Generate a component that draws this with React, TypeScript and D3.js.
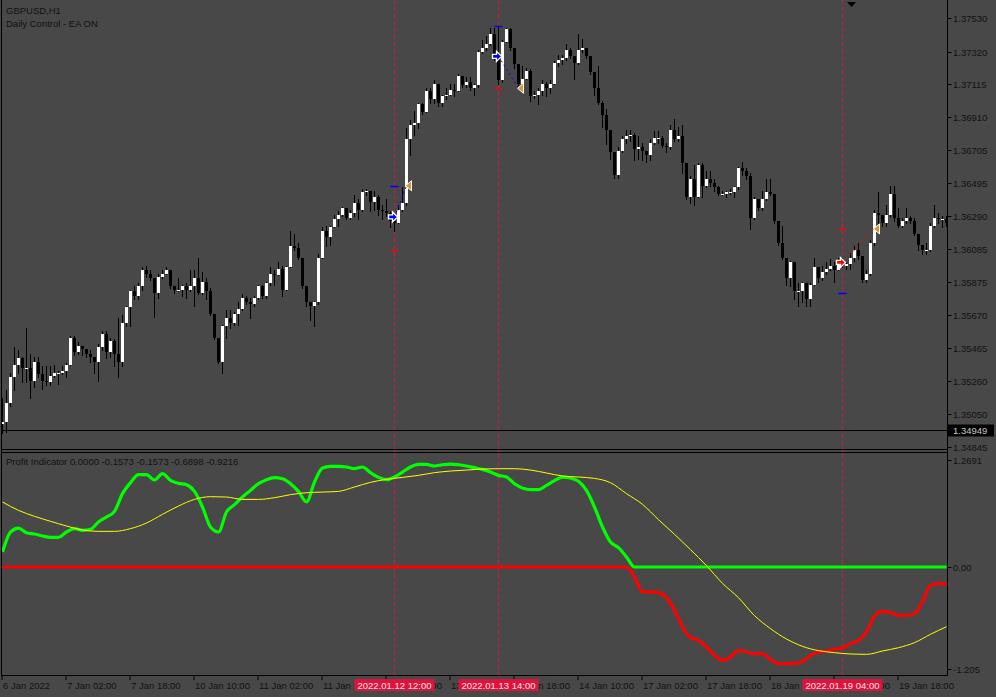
import { useEffect, useRef } from 'react'
import * as d3 from 'd3'

// GBPUSD H1 candles, 6 Jan 10:00 .. 19 Jan; open of each bar = previous close
const firstOpen = 1.3499
const closes = [
  1.3500, 1.3512, 1.3528, 1.3536, 1.3540, 1.3534, 1.3534, 1.3526, 1.3538, 1.3530,
  1.3526, 1.3525, 1.3529, 1.3531, 1.3531, 1.3532, 1.3536, 1.3553, 1.3544, 1.3548,
  1.3546, 1.3543, 1.3541, 1.3538, 1.3547, 1.3555, 1.3544, 1.3551, 1.3543, 1.3538,
  1.3562, 1.3572, 1.3582, 1.3579, 1.3585, 1.3595, 1.3593, 1.3590, 1.3581, 1.3591,
  1.3593, 1.3595, 1.3585, 1.3583, 1.3583, 1.3585, 1.3583, 1.3585, 1.3590, 1.3581,
  1.3588, 1.3582, 1.3568, 1.3553, 1.3538, 1.3560, 1.3565, 1.3562, 1.3568, 1.3571,
  1.3578, 1.3575, 1.3574, 1.3578, 1.3585, 1.3579, 1.3587, 1.3593, 1.3592, 1.3596,
  1.3583, 1.3597, 1.3610, 1.3609, 1.3603, 1.3585, 1.3575, 1.3573, 1.3575, 1.3603,
  1.3620, 1.3616, 1.3622, 1.3627, 1.3630, 1.3634, 1.3628, 1.3631, 1.3637, 1.3633,
  1.3644, 1.3645, 1.3638, 1.3641, 1.3633, 1.3632, 1.3631, 1.3626, 1.3625, 1.3633,
  1.3637, 1.3677, 1.3686, 1.3687, 1.3699, 1.3694, 1.3707, 1.3702, 1.3712, 1.3700,
  1.3704, 1.3705, 1.3708, 1.3707, 1.3717, 1.3711, 1.3713, 1.3709, 1.3711, 1.3732,
  1.3734, 1.3737, 1.3743, 1.3728, 1.3714, 1.3738, 1.3746, 1.3734, 1.3724, 1.3712,
  1.3715, 1.3720, 1.3704, 1.3705, 1.3707, 1.3712, 1.3709, 1.3712, 1.3725, 1.3727,
  1.3728, 1.3733, 1.3729, 1.3725, 1.3733, 1.3734, 1.3729, 1.3719, 1.3709, 1.3700,
  1.3692, 1.3683, 1.3669, 1.3655, 1.3670, 1.3677, 1.3679, 1.3680, 1.3671, 1.3672,
  1.3670, 1.3667, 1.3675, 1.3678, 1.3678, 1.3673, 1.3672, 1.3683, 1.3677, 1.3679,
  1.3662, 1.3641, 1.3652, 1.3641, 1.3661, 1.3648, 1.3652, 1.3650, 1.3647, 1.3643,
  1.3643, 1.3644, 1.3644, 1.3647, 1.3659, 1.3657, 1.3654, 1.3628, 1.3640, 1.3634,
  1.3640, 1.3644, 1.3643, 1.3626, 1.3612, 1.3603, 1.3590, 1.3600, 1.3582, 1.3582,
  1.3587, 1.3577, 1.3586, 1.3597, 1.3590, 1.3594, 1.3596, 1.3598, 1.3595, 1.3601,
  1.3598, 1.3599, 1.3603, 1.3608, 1.3604, 1.3589, 1.3593, 1.3612, 1.3631, 1.3630,
  1.3625, 1.3630, 1.3643, 1.3628, 1.3623, 1.3626, 1.3628, 1.3626, 1.3618, 1.3611,
  1.3608, 1.3608, 1.3623, 1.3628, 1.3627, 1.3627, 1.3625
]
const highs = [
  1.3515, 1.3520, 1.3531, 1.3547, 1.3545, 1.3541, 1.3559, 1.3543, 1.3541, 1.3541,
  1.3535, 1.3535, 1.3535, 1.3536, 1.3532, 1.3535, 1.3537, 1.3554, 1.3554, 1.3550,
  1.3548, 1.3546, 1.3545, 1.3541, 1.3549, 1.3557, 1.3557, 1.3553, 1.3552, 1.3565,
  1.3567, 1.3573, 1.3583, 1.3585, 1.3587, 1.3597, 1.3598, 1.3595, 1.3590, 1.3593,
  1.3595, 1.3597, 1.3595, 1.3585, 1.3590, 1.3586, 1.3587, 1.3595, 1.3595, 1.3603,
  1.3594, 1.3590, 1.3584, 1.3568, 1.3553, 1.3561, 1.3570, 1.3570, 1.3569, 1.3575,
  1.3580, 1.3579, 1.3578, 1.3579, 1.3586, 1.3586, 1.3588, 1.3597, 1.3595, 1.3600,
  1.3598, 1.3598, 1.3620, 1.3618, 1.3612, 1.3603, 1.3585, 1.3575, 1.3576, 1.3605,
  1.3622, 1.3623, 1.3623, 1.3630, 1.3632, 1.3635, 1.3633, 1.3633, 1.3642, 1.3640,
  1.3646, 1.3646, 1.3645, 1.3645, 1.3642, 1.3636, 1.3640, 1.3632, 1.3627, 1.3636,
  1.3647, 1.3684, 1.3689, 1.3695, 1.3700, 1.3700, 1.3709, 1.3709, 1.3714, 1.3711,
  1.3705, 1.3709, 1.3712, 1.3712, 1.3718, 1.3717, 1.3716, 1.3716, 1.3712, 1.3733,
  1.3739, 1.3742, 1.3747, 1.3747, 1.3748, 1.3739, 1.3747, 1.3747, 1.3734, 1.3724,
  1.3723, 1.3722, 1.3721, 1.3707, 1.3709, 1.3714, 1.3713, 1.3714, 1.3726, 1.3730,
  1.3730, 1.3737, 1.3734, 1.3729, 1.3743, 1.3740, 1.3734, 1.3729, 1.3719, 1.3723,
  1.3701, 1.3696, 1.3683, 1.3669, 1.3672, 1.3679, 1.3683, 1.3683, 1.3681, 1.3679,
  1.3675, 1.3670, 1.3677, 1.3682, 1.3682, 1.3679, 1.3675, 1.3686, 1.3690, 1.3685,
  1.3686, 1.3662, 1.3654, 1.3661, 1.3662, 1.3662, 1.3657, 1.3657, 1.3652, 1.3648,
  1.3645, 1.3645, 1.3646, 1.3648, 1.3660, 1.3663, 1.3659, 1.3656, 1.3641, 1.3640,
  1.3645, 1.3652, 1.3652, 1.3643, 1.3623, 1.3623, 1.3603, 1.3601, 1.3596, 1.3587,
  1.3588, 1.3587, 1.3587, 1.3603, 1.3597, 1.3598, 1.3600, 1.3602, 1.3600, 1.3603,
  1.3603, 1.3600, 1.3606, 1.3610, 1.3612, 1.3604, 1.3595, 1.3614, 1.3633, 1.3644,
  1.3630, 1.3636, 1.3648, 1.3648, 1.3634, 1.3628, 1.3634, 1.3629, 1.3628, 1.3618,
  1.3611, 1.3612, 1.3625, 1.3636, 1.3631, 1.3629, 1.3629
]
const lows = [
  1.3493, 1.3494, 1.3510, 1.3520, 1.3531, 1.3525, 1.3525, 1.3515, 1.3522, 1.3528,
  1.3521, 1.3523, 1.3523, 1.3528, 1.3524, 1.3530, 1.3528, 1.3536, 1.3542, 1.3543,
  1.3542, 1.3541, 1.3538, 1.3531, 1.3526, 1.3545, 1.3540, 1.3541, 1.3535, 1.3528,
  1.3535, 1.3560, 1.3560, 1.3577, 1.3577, 1.3583, 1.3591, 1.3589, 1.3566, 1.3578,
  1.3590, 1.3593, 1.3584, 1.3581, 1.3582, 1.3579, 1.3578, 1.3582, 1.3573, 1.3580,
  1.3580, 1.3577, 1.3567, 1.3552, 1.3537, 1.3531, 1.3553, 1.3559, 1.3561, 1.3561,
  1.3570, 1.3574, 1.3565, 1.3573, 1.3577, 1.3578, 1.3578, 1.3586, 1.3586, 1.3592,
  1.3579, 1.3584, 1.3597, 1.3608, 1.3602, 1.3584, 1.3573, 1.3564, 1.3560, 1.3574,
  1.3603, 1.3610, 1.3611, 1.3622, 1.3623, 1.3629, 1.3627, 1.3627, 1.3629, 1.3627,
  1.3632, 1.3642, 1.3632, 1.3633, 1.3630, 1.3627, 1.3629, 1.3622, 1.3620, 1.3627,
  1.3632, 1.3636, 1.3667, 1.3680, 1.3684, 1.3693, 1.3698, 1.3700, 1.3700, 1.3698,
  1.3698, 1.3702, 1.3705, 1.3704, 1.3707, 1.3710, 1.3710, 1.3708, 1.3705, 1.3710,
  1.3731, 1.3733, 1.3736, 1.3727, 1.3712, 1.3713, 1.3738, 1.3733, 1.3722, 1.3711,
  1.3713, 1.3715, 1.3701, 1.3703, 1.3699, 1.3705, 1.3704, 1.3706, 1.3712, 1.3723,
  1.3724, 1.3727, 1.3728, 1.3715, 1.3724, 1.3732, 1.3728, 1.3718, 1.3705, 1.3699,
  1.3685, 1.3674, 1.3665, 1.3653, 1.3653, 1.3669, 1.3675, 1.3676, 1.3664, 1.3665,
  1.3664, 1.3663, 1.3664, 1.3674, 1.3675, 1.3672, 1.3669, 1.3671, 1.3676, 1.3676,
  1.3656, 1.3640, 1.3637, 1.3636, 1.3652, 1.3641, 1.3647, 1.3648, 1.3645, 1.3642,
  1.3642, 1.3641, 1.3643, 1.3641, 1.3646, 1.3655, 1.3652, 1.3621, 1.3627, 1.3633,
  1.3633, 1.3639, 1.3642, 1.3625, 1.3611, 1.3602, 1.3586, 1.3585, 1.3577, 1.3573,
  1.3575, 1.3573, 1.3573, 1.3586, 1.3588, 1.3589, 1.3593, 1.3595, 1.3588, 1.3595,
  1.3597, 1.3596, 1.3596, 1.3601, 1.3602, 1.3588, 1.3588, 1.3592, 1.3611, 1.3625,
  1.3623, 1.3623, 1.3629, 1.3626, 1.3622, 1.3622, 1.3625, 1.3625, 1.3617, 1.3608,
  1.3605, 1.3605, 1.3607, 1.3622, 1.3625, 1.3622, 1.3623
]

const priceTicks = [1.37530, 1.37320, 1.37115, 1.36910, 1.36705, 1.36495, 1.36290,
  1.36085, 1.35875, 1.35670, 1.35465, 1.35260, 1.35050, 1.34845]
const lastPrice = 1.34949

const timeLabels = ['6 Jan 2022', '7 Jan 02:00', '7 Jan 18:00', '10 Jan 10:00', '11 Jan 02:00',
  '11 Jan 18:00', '12 Jan 10:00', '13 Jan 02:00', '13 Jan 18:00', '14 Jan 10:00',
  '17 Jan 02:00', '17 Jan 18:00', '18 Jan 10:00', '19 Jan 02:00', '19 Jan 18:00']
const barsPerTimeLabel = 16

// profit indicator, sampled every 2nd bar
const profitStep = 2
const profitValues = [
  0.178, 0.415, 0.462, 0.407, 0.391, 0.368, 0.352, 0.352, 0.415, 0.455,
  0.435, 0.447, 0.534, 0.593, 0.660, 0.870, 1.000, 1.095, 1.095, 1.032,
  1.107, 1.028, 0.992, 0.976, 0.897, 0.711, 0.474, 0.415, 0.652, 0.739,
  0.830, 0.909, 0.988, 1.036, 1.059, 1.047, 0.988, 0.897, 0.771, 1.008,
  1.174, 1.194, 1.194, 1.186, 1.166, 1.186, 1.119, 1.063, 1.036, 1.067,
  1.126, 1.186, 1.217, 1.217, 1.198, 1.213, 1.221, 1.213, 1.198, 1.178,
  1.158, 1.126, 1.087, 1.067, 0.988, 0.937, 0.917, 0.917, 0.968, 1.024,
  1.067, 1.055, 1.016, 0.909, 0.711, 0.474, 0.296, 0.229, 0.119, -0.119,
  -0.296, -0.296, -0.304, -0.364, -0.514, -0.711, -0.838, -0.870, -0.949, -1.047,
  -1.107, -1.067, -0.988, -1.008, -1.028, -1.028, -1.095, -1.146, -1.146, -1.146,
  -1.119, -1.047, -1.008, -0.996, -0.976, -0.960, -0.909, -0.870, -0.771, -0.581,
  -0.526, -0.542, -0.573, -0.573, -0.553, -0.415, -0.217, -0.198, -0.202
]
// yellow signal line, sampled every 4th bar
const signalStep = 4
const signalValues = [
  0.771, 0.672, 0.601, 0.542, 0.486, 0.439, 0.423, 0.423, 0.455, 0.522,
  0.625, 0.723, 0.802, 0.834, 0.830, 0.802, 0.802, 0.822, 0.858, 0.881,
  0.889, 0.897, 0.949, 1.004, 1.040, 1.063, 1.087, 1.119, 1.138, 1.150,
  1.162, 1.166, 1.166, 1.150, 1.115, 1.079, 1.067, 1.051, 1.000, 0.870,
  0.743, 0.561, 0.387, 0.206, 0.016, -0.194, -0.364, -0.577, -0.731, -0.854,
  -0.941, -0.992, -1.016, -1.032, -1.036, -0.996, -0.957, -0.897, -0.798, -0.708
]
const indicatorTicks = [1.2691, 0, -1.205]
const indicatorTickText = ['1.2691', '0.00', '-1.205']
const indicatorTitle = 'Profit Indicator 0.0000 -0.1573 -0.1573 -0.6898 -0.9216'

// trades: entry bar, exit bar, entry price, take profit, stop loss
const trades = [
  { side: 'buy', entry: 98, exit: 101, price: 1.36285, tp: 1.3648, sl: 1.3608, exitPrice: 1.3648, stamp: '2022.01.12 12:00' },
  { side: 'buy', entry: 124, exit: 129, price: 1.3729, tp: 1.3748, sl: 1.3709, exitPrice: 1.3709, stamp: '2022.01.13 14:00' },
  { side: 'sell', entry: 210, exit: 218, price: 1.3600, tp: 1.3581, sl: 1.3621, exitPrice: 1.3621, stamp: '2022.01.19 04:00' }
]

const FONT = '"Liberation Sans", Arial, sans-serif'
const BG = '#484848'
const INK = '#121212'

export default function App() {
  const svgRef = useRef<SVGSVGElement>(null)

  useEffect(() => {
    if (!svgRef.current) return
    const svg = d3.select(svgRef.current)
    svg.selectAll('*').remove()

    const right = 947.5
    const n = closes.length
    const x = d3.scaleLinear().domain([0, n - 1]).range([2.5, 2.5 + 4 * (n - 1)])
    const y = d3.scaleLinear().domain([1.34845, 1.37530]).range([447, 18])
    const yi = d3.scaleLinear().domain([-1.205, 1.2691]).range([668.6, 460])

    svg.append('rect').attr('width', 996).attr('height', 697).attr('fill', BG)

    const defs = svg.append('defs')
    defs.append('clipPath').attr('id', 'clipMain')
      .append('rect').attr('x', 2).attr('y', 0).attr('width', right - 2).attr('height', 449)
    defs.append('clipPath').attr('id', 'clipInd')
      .append('rect').attr('x', 2).attr('y', 453).attr('width', right - 2).attr('height', 222)

    // vertical trade lines through both panels
    trades.forEach(t => {
      svg.append('line')
        .attr('x1', x(t.entry)).attr('x2', x(t.entry))
        .attr('y1', 0).attr('y2', 675)
        .attr('stroke', '#dc143c').attr('stroke-width', 1)
        .attr('stroke-dasharray', '4,3')
    })

    // candles
    const main = svg.append('g').attr('clip-path', 'url(#clipMain)')
    const opens = closes.map((c, i) => (i === 0 ? firstOpen : closes[i - 1]))
    closes.forEach((c, i) => {
      const o = opens[i]
      const hi = Math.max(highs[i], o, c)
      const lo = Math.min(lows[i], o, c)
      main.append('line')
        .attr('x1', x(i)).attr('x2', x(i))
        .attr('y1', Math.round(y(hi))).attr('y2', Math.round(y(lo)) + 1)
        .attr('stroke', '#000').attr('stroke-width', 1)
      const top = Math.round(y(Math.max(o, c)))
      const bot = Math.round(y(Math.min(o, c)))
      main.append('rect')
        .attr('x', x(i) - 1.5).attr('y', top)
        .attr('width', 3).attr('height', Math.max(1, bot - top))
        .attr('fill', c >= o ? '#ffffff' : '#000000')
        .attr('shape-rendering', 'crispEdges')
    })

    // horizontal price line
    main.append('line')
      .attr('x1', 0).attr('x2', right)
      .attr('y1', Math.round(y(lastPrice)) + 0.5).attr('y2', Math.round(y(lastPrice)) + 0.5)
      .attr('stroke', '#000').attr('stroke-width', 1)

    // trade marks
    trades.forEach(t => {
      const buy = t.side === 'buy'
      const col = buy ? '#0000ff' : '#ff0000'
      const ex = x(t.entry)
      const ey = y(t.price)
      const cx = x(t.exit)
      const cy = y(t.exitPrice)
      main.append('line')
        .attr('x1', ex).attr('y1', ey).attr('x2', cx).attr('y2', cy)
        .attr('stroke', col).attr('stroke-width', 1).attr('stroke-dasharray', '2,3')
      main.append('line')
        .attr('x1', ex - 4).attr('x2', ex + 4)
        .attr('y1', Math.round(y(t.tp)) + 0.5).attr('y2', Math.round(y(t.tp)) + 0.5)
        .attr('stroke', '#0000ff').attr('stroke-width', 1.5)
      main.append('line')
        .attr('x1', ex - 4).attr('x2', ex + 4)
        .attr('y1', Math.round(y(t.sl)) + 0.5).attr('y2', Math.round(y(t.sl)) + 0.5)
        .attr('stroke', '#ff0000').attr('stroke-width', 1.5)
      const ax = ex - 2
      main.append('path')
        .attr('d', `M${ax - 4},${ey - 2} H${ax} V${ey - 5} L${ax + 5},${ey} L${ax},${ey + 5} V${ey + 2} H${ax - 4} Z`)
        .attr('fill', col).attr('stroke', '#fff').attr('stroke-width', 1.3)
      main.append('path')
        .attr('d', `M${cx - 1},${cy} L${cx + 5},${cy - 5} L${cx + 5},${cy + 5} Z`)
        .attr('fill', '#d9962f').attr('stroke', '#fff').attr('stroke-width', 1)
    })

    // chart shift marker
    svg.append('path').attr('d', 'M847,2 L856,2 L851.5,7 Z').attr('fill', '#000')

    // indicator lines
    const ind = svg.append('g').attr('clip-path', 'url(#clipInd)')
    const pts = profitValues.map((v, k) => ({ i: k * profitStep, v }))
    const line = d3.line<{ i: number; v: number }>()
      .x(d => x(d.i)).y(d => yi(d.v)).curve(d3.curveMonotoneX)
    ind.append('path')
      .datum(pts.map(p => ({ i: p.i, v: Math.min(p.v, 0) })))
      .attr('d', line).attr('fill', 'none')
      .attr('stroke', '#ff0000').attr('stroke-width', 3.2)
    ind.append('path')
      .datum(pts.map(p => ({ i: p.i, v: Math.max(p.v, 0) })))
      .attr('d', line).attr('fill', 'none')
      .attr('stroke', '#00ff00').attr('stroke-width', 3.2)
    ind.append('path')
      .datum(signalValues.map((v, k) => ({ i: k * signalStep, v })))
      .attr('d', line).attr('fill', 'none')
      .attr('stroke', '#ffff00').attr('stroke-width', 1)

    // frames
    const frame = svg.append('g').attr('stroke', '#000').attr('stroke-width', 1).attr('fill', 'none')
    frame.append('line').attr('x1', 1.5).attr('x2', 1.5).attr('y1', 0).attr('y2', 675.5)
    frame.append('line').attr('x1', right).attr('x2', right).attr('y1', 0).attr('y2', 675.5)
    frame.append('line').attr('x1', 1.5).attr('x2', right).attr('y1', 449.5).attr('y2', 449.5)
    frame.append('line').attr('x1', 1.5).attr('x2', right).attr('y1', 452.5).attr('y2', 452.5)
    frame.append('line').attr('x1', 1.5).attr('x2', right).attr('y1', 675.5).attr('y2', 675.5)

    // price axis
    priceTicks.forEach(p => {
      const py = Math.round(y(p)) + 0.5
      svg.append('line').attr('x1', right).attr('x2', right + 4)
        .attr('y1', py).attr('y2', py).attr('stroke', '#000')
      svg.append('text').attr('x', 953).attr('y', py).attr('dy', '0.35em')
        .style('font-family', FONT).style('font-size', '9.5px').style('fill', INK)
        .text(p.toFixed(5))
    })
    const ly = Math.round(y(lastPrice)) + 0.5
    svg.append('rect').attr('x', 948).attr('y', ly - 6).attr('width', 46).attr('height', 12).attr('fill', '#000')
    svg.append('text').attr('x', 953).attr('y', ly).attr('dy', '0.35em')
      .style('font-family', FONT).style('font-size', '9.5px').style('fill', '#c8c8c8')
      .text(lastPrice.toFixed(5))

    // indicator axis
    indicatorTicks.forEach((v, k) => {
      const py = Math.round(yi(v)) + 0.5
      svg.append('line').attr('x1', right).attr('x2', right + 4)
        .attr('y1', py).attr('y2', py).attr('stroke', '#000')
      svg.append('text').attr('x', 953).attr('y', py).attr('dy', '0.35em')
        .style('font-family', FONT).style('font-size', '9.5px').style('fill', INK)
        .text(indicatorTickText[k])
    })

    // time axis
    timeLabels.forEach((lab, k) => {
      const tx = x(k * barsPerTimeLabel) - 0.5
      svg.append('line').attr('x1', tx).attr('x2', tx).attr('y1', 675.5).attr('y2', 680)
        .attr('stroke', '#000')
      svg.append('text').attr('x', tx + 1).attr('y', 689)
        .style('font-family', FONT).style('font-size', '9.5px').style('fill', INK)
        .text(lab)
    })
    trades.forEach(t => {
      const tx = x(t.entry)
      svg.append('rect').attr('x', tx - 40).attr('y', 679).attr('width', 80).attr('height', 12)
        .attr('fill', '#dc143c')
      svg.append('text').attr('x', tx).attr('y', 689).attr('text-anchor', 'middle')
        .style('font-family', FONT).style('font-size', '9.5px').style('fill', '#f6e6ea')
        .text(t.stamp)
    })

    // titles
    svg.append('text').attr('x', 6).attr('y', 14)
      .style('font-family', FONT).style('font-size', '9.5px').style('fill', INK).text('GBPUSD,H1')
    svg.append('text').attr('x', 6).attr('y', 27)
      .style('font-family', FONT).style('font-size', '9.5px').style('fill', INK).text('Daily Control - EA ON')
    svg.append('text').attr('x', 6).attr('y', 465)
      .style('font-family', FONT).style('font-size', '9.5px').style('fill', INK).text(indicatorTitle)
  }, [])

  return (
    <svg ref={svgRef} width={996} height={697}
      style={{ position: 'fixed', left: 0, top: 0, display: 'block' }} />
  )
}
